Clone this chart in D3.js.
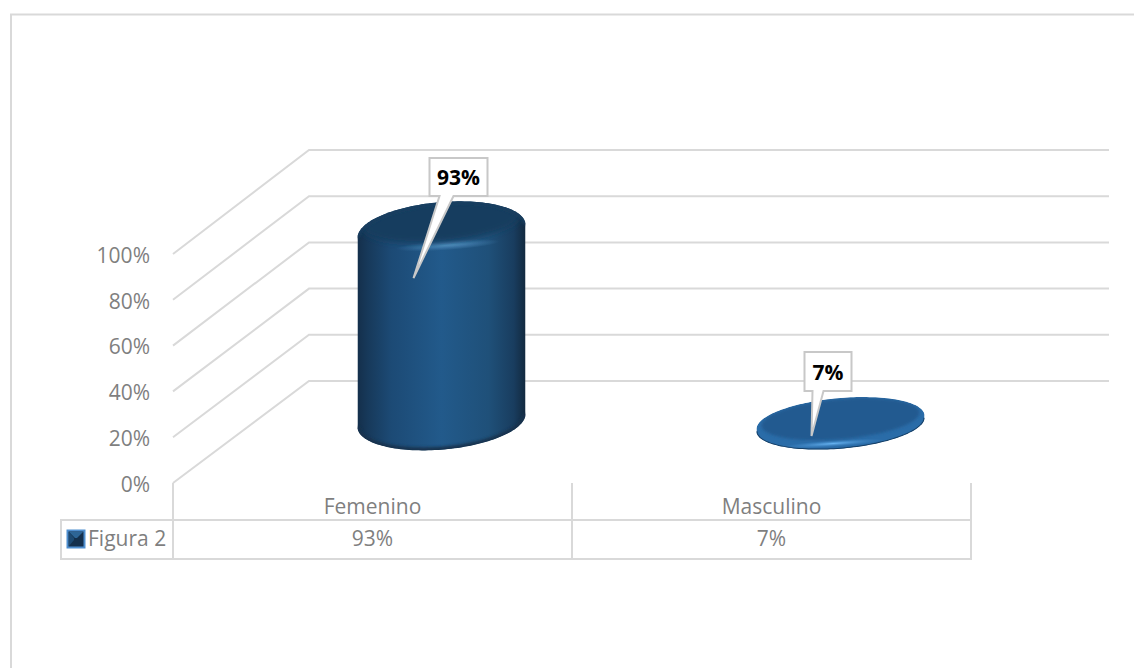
<!DOCTYPE html>
<html><head><meta charset="utf-8">
<script src="https://cdn.jsdelivr.net/npm/d3@7"></script>
<style>html,body{margin:0;padding:0;background:#fff}svg{display:block}text{font-family:"Open Sans","Noto Sans",sans-serif}</style>
</head><body><div id="c"></div>
<script>
const categories = ["Femenino","Masculino"];
const values = [93,7];
const tableLabels = ["93%","7%"];
const seriesName = "Figura 2";
const tickValues = [0,20,40,60,80,100];

const W=1134,H=668,grid="#d9d9d9",txt="#7f7f7f";
const svg=d3.select("#c").append("svg").attr("width",W).attr("height",H);
const defs=svg.append("defs");

const frontX=173, backX=309, gridEnd=1109, tableRight=971, tableLeft=61;
const yFront=d3.scaleLinear().domain([0,100]).range([483,254]);
const yBack=d3.scaleLinear().domain([0,100]).range([381,150]);
const yBar=d3.scaleLinear().domain([0,100]).range([437.6,215.6]);
const x=d3.scaleBand().domain(categories).range([frontX,tableRight]);
const depth=(backX-frontX)/2;
const cx=c=>x(c)+x.bandwidth()/2+depth+1;

// chart frame
svg.append("path").attr("d",`M11,${H}V14.5H${W}`).attr("fill","none").attr("stroke",grid).attr("stroke-width",2);

// gridlines
const g=svg.append("g").attr("fill","none").attr("stroke",grid).attr("stroke-width",2);
tickValues.forEach(t=>{
  g.append("path").attr("d",`M${frontX},${yFront(t)}L${backX},${yBack(t)}H${gridEnd}`);
});

// axis labels
const ax=svg.append("g").attr("transform",`translate(${frontX},0)`)
  .call(d3.axisLeft(yFront).tickValues(tickValues).tickSize(0).tickPadding(23).tickFormat(d=>d+"%"));
ax.select(".domain").remove();
ax.selectAll("text").attr("fill",txt).style("font-size","21px").style("font-family",'"Open Sans"').attr("dy","0.39em");

// data table
const t=svg.append("g").attr("fill","none").attr("stroke",grid).attr("stroke-width",2);
t.append("path").attr("d",`M${tableLeft},520H${tableRight}M${tableLeft},559H${tableRight}M${tableLeft},519V560`);
[...categories.map(c=>x(c)),tableRight].forEach(v=>t.append("path").attr("d",`M${v},483V560`));
categories.forEach((c,i)=>{
  svg.append("text").attr("x",x(c)+x.bandwidth()/2).attr("y",514).attr("text-anchor","middle").attr("fill",txt).style("font-size","21px").text(c);
  svg.append("text").attr("x",x(c)+x.bandwidth()/2).attr("y",546).attr("text-anchor","middle").attr("fill",txt).style("font-size","21px").text(tableLabels[i]);
});
svg.append("text").attr("x",88).attr("y",546).attr("fill",txt).style("font-size","21px").text(seriesName);

// legend key
const k=svg.append("g");
k.append("rect").attr("x",67.5).attr("y",530.5).attr("width",17).attr("height",17).attr("fill","#14304d").attr("stroke","#4f8fd0").attr("stroke-width",2);
k.append("path").attr("d","M69,532L83,532L77,538H75Z").attr("fill","#2d6596");
k.append("path").attr("d","M69,532L69,546L74,540V538Z").attr("fill","#1d4a73");

// gradients
function lin(id,stops,a){const g=defs.append("linearGradient").attr("id",id).attr("x1",a[0]).attr("y1",a[1]).attr("x2",a[2]).attr("y2",a[3]);
  stops.forEach(s=>g.append("stop").attr("offset",s[0]).attr("stop-color",s[1]));}
lin("body",[[0,"#142f4b"],[.06,"#17395a"],[.2,"#1c4a75"],[.5,"#225a8b"],[.78,"#1f5079"],[.93,"#193d5f"],[1,"#12293f"]],[0,0,1,0]);
const rg=defs.append("radialGradient").attr("id","glow");
rg.append("stop").attr("offset",0).attr("stop-color","#5d9bca").attr("stop-opacity",.9);
rg.append("stop").attr("offset",1).attr("stop-color","#4f8fc2").attr("stop-opacity",0);
const rg2=defs.append("radialGradient").attr("id","glow2");
rg2.append("stop").attr("offset",0).attr("stop-color","#66b2f0").attr("stop-opacity",1);
rg2.append("stop").attr("offset",1).attr("stop-color","#3f86c6").attr("stop-opacity",0);
[["b3",3],["b1",1.6],["b2",.6]].forEach(b=>defs.append("filter").attr("id",b[0]).attr("x","-20%").attr("y","-40%").attr("width","140%").attr("height","180%").append("feGaussianBlur").attr("stdDeviation",b[1]));

// tilted ellipses
const A=84.3,TH=-5*Math.PI/180;
const shapes=[{ry:29,bevel:17},{ry:24,bevel:13}];
const pt=(c,y,u,sa,sb)=>{const ex=sa*Math.cos(u),ey=sb*Math.sin(u);
  return [c+ex*Math.cos(TH)-ey*Math.sin(TH), y+ex*Math.sin(TH)+ey*Math.cos(TH)];};
const arc=(c,y,u0,u1,sa,sb)=>d3.range(0,81).map(i=>pt(c,y,u0+(u1-u0)*i/80,sa,sb));
const line=d3.line();
const bars=svg.append("g");
categories.forEach((cat,i)=>{
  const c=cx(cat), top=yBar(values[i]), bot=yBar(0)-shapes[i].bevel, B=shapes[i].ry;
  const uR=Math.atan2(-B*Math.sin(TH),A*Math.cos(TH));
  const upper=arc(c,top,uR+Math.PI,uR+2*Math.PI,A,B);
  const lower=arc(c,bot,uR,uR+Math.PI,A,B);
  const sil=line(upper.concat(lower))+"Z";
  const clip="clip"+i;
  defs.append("clipPath").attr("id",clip).append("path").attr("d",sil);
  const b=bars.append("g");
  const tall=values[i]>50;
  const inner=b.append("g").attr("clip-path",`url(#${clip})`);
  inner.append("path").attr("d",sil).attr("fill",tall?"url(#body)":"#2a6ca8");
  if(tall){
    inner.append("path").attr("d",line(lower)).attr("fill","none").attr("stroke","#12304e").attr("stroke-width",6).attr("filter","url(#b1)");
    inner.append("ellipse").attr("cx",c+6).attr("cy",top+14).attr("rx",52).attr("ry",5).attr("fill","url(#glow)").attr("transform",`rotate(-4 ${c+6} ${top+14})`);
    inner.append("path").attr("d",line(arc(c,top-10,0,2*Math.PI,A-5,B-8))+"Z").attr("fill","#163c5f").attr("filter","url(#b3)");
    inner.append("path").attr("d",line(upper)).attr("fill","none").attr("stroke","#163c5f").attr("stroke-width",5).attr("filter","url(#b1)");
  } else {
    inner.append("path").attr("d",line(lower)).attr("fill","none").attr("stroke","#173f66").attr("stroke-width",2).attr("filter","url(#b2)");
    inner.append("ellipse").attr("cx",c-8).attr("cy",bot+19).attr("rx",52).attr("ry",3.5).attr("fill","url(#glow2)").attr("transform",`rotate(-4 ${c-8} ${bot+19})`);
    inner.append("path").attr("d",line(arc(c,top-3,0,2*Math.PI,A-5,B-4))+"Z").attr("fill","#205a90").attr("filter","url(#b1)");
  }
});

// callouts: box offset from the bar centre, pointer tip from the bar top
const callouts=[
  {w:58,h:38,dx:-12,top:158,baseA:-2,baseB:12,tipDx:-28,tipDy:47},
  {w:47,h:39,dx:-36,top:352,baseA:-28,baseB:-17,tipDx:-29,tipDy:14}
];
categories.forEach((cat,i)=>{
  const c=cx(cat),o=callouts[i],bx=c+o.dx,by=o.top,bb=by+o.h,tx=c+o.tipDx,ty=yBar(values[i])+o.tipDy;
  const d=`M${bx},${by}H${bx+o.w}V${bb}H${c+o.baseB}L${tx},${ty}L${c+o.baseA},${bb}H${bx}Z`;
  svg.append("path").attr("d",d).attr("fill","#fff").attr("stroke","#c8c8c8").attr("stroke-width",2).attr("stroke-linejoin","miter");
  svg.append("text").attr("x",bx+o.w/2).attr("y",by+o.h/2+8).attr("text-anchor","middle").attr("fill","#000").style("font-size","21px").style("font-weight",700).text(tableLabels[i]);
});
</script></body></html>
